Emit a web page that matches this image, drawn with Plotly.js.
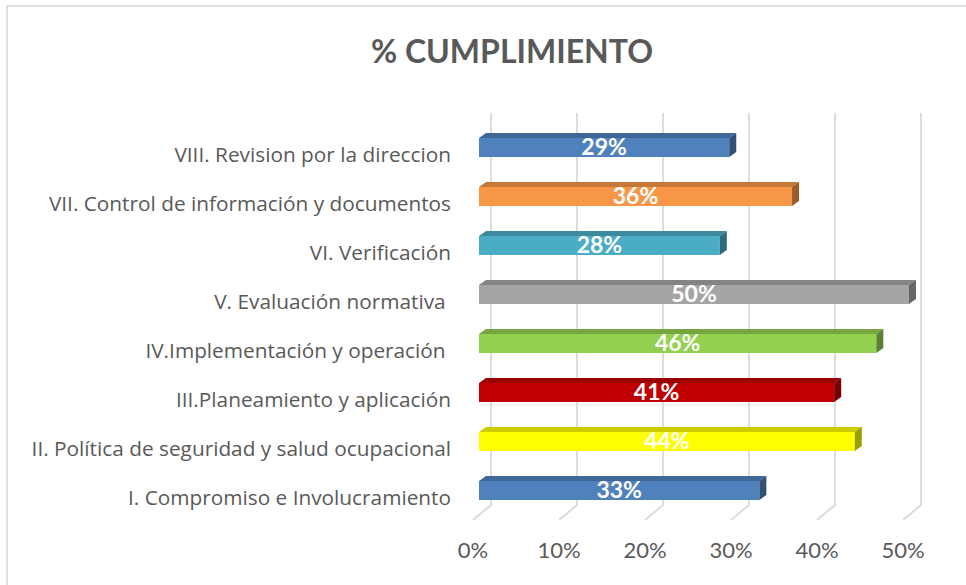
<!DOCTYPE html>
<html>
<head>
<meta charset="utf-8">
<script src="https://cdn.plot.ly/plotly-3.0.1.min.js"></script>
<style>html,body{margin:0;padding:0;background:#fff;}#chart{width:966px;height:585px;}</style>
</head>
<body>
<div id="chart"></div>
<script>
// ---- data (bottom to top) ----
const categories = [
  "I. Compromiso e Involucramiento",
  "II. Política de seguridad y salud ocupacional",
  "III.Planeamiento y aplicación",
  "IV.Implementación y operación ",
  "V. Evaluación normativa ",
  "VI. Verificación",
  "VII. Control de información y documentos",
  "VIII. Revision por la direccion"
];
const values = [32.6, 43.7, 41.3, 46.2, 50.0, 28.0, 36.4, 29.1];
const colors = ["#4f81bd", "#ffff00", "#c00000", "#92d050", "#a5a5a5", "#4bacc6", "#f79646", "#4f81bd"];
const tickValues = [0, 10, 20, 30, 40, 50];
const tickLabels = ["0%", "10%", "20%", "30%", "40%", "50%"];

// ---- geometry (pixel-based conversions) ----
const W = 966, H = 585;
const plotL = 470, plotR = 926, plotT = 108, plotB = 520;
const x0px = 479, pxPerUnit = 8.6;      // front face of bars: 0% at 479px
const yRef = 490.5, pxPerCat = 49;      // center of first category
const xr = [(plotL - x0px) / pxPerUnit, (plotR - x0px) / pxPerUnit];
const yr = [(yRef - plotB) / pxPerCat, (yRef - plotT) / pxPerCat];
const pxX = p => p / pxPerUnit;     // pixel length -> data x
const pxY = p => p / pxPerCat;      // pixel length -> data y

const barW = pxY(19);
const depthX = pxX(7), depthY = pxY(5);

function shade(hex, f) {
  const n = parseInt(hex.slice(1), 16);
  const r = Math.round(((n >> 16) & 255) * f), g = Math.round(((n >> 8) & 255) * f), b = Math.round((n & 255) * f);
  return `rgb(${r},${g},${b})`;
}

const idx = categories.map((c, i) => i);
const shapes = [];

// back-wall gridlines with floor diagonals
const backOff = pxX(12), floorOff = pxX(-6);
const gTop = (yRef - 113) / pxPerCat, gBend = (yRef - 505) / pxPerCat, gBot = (yRef - 520) / pxPerCat;
tickValues.forEach(t => {
  shapes.push({
    type: "path", xref: "x", yref: "y", layer: "below",
    path: `M ${t + backOff},${gTop} L ${t + backOff},${gBend} L ${t + floorOff},${gBot}`,
    line: { color: "#d9d9d9", width: 1.8 }
  });
});

// 3D top and side faces of bars
values.forEach((v, i) => {
  const yt = i + barW / 2, yb = i - barW / 2;
  shapes.push({
    type: "path", xref: "x", yref: "y", layer: "above",
    path: `M 0,${yt} L ${v},${yt} L ${v + depthX},${yt + depthY} L ${depthX},${yt + depthY} Z`,
    fillcolor: shade(colors[i], 0.8), line: { width: 0 }
  });
  shapes.push({
    type: "path", xref: "x", yref: "y", layer: "above",
    path: `M ${v},${yb} L ${v},${yt} L ${v + depthX},${yt + depthY} L ${v + depthX},${yb + depthY} Z`,
    fillcolor: shade(colors[i], 0.62), line: { width: 0 }
  });
});

// outer chart border (paper coordinates)
const pw = plotR - plotL, ph = plotB - plotT;
shapes.push({
  type: "rect", xref: "paper", yref: "paper", layer: "above",
  x0: (7 - plotL) / pw, x1: (975 - plotL) / pw,
  y0: (plotB - 6) / ph, y1: (plotB - 595) / ph,
  line: { color: "#d9d9d9", width: 1.5 }, fillcolor: "rgba(0,0,0,0)"
});

const bars = {
  type: "bar", orientation: "h",
  x: values, y: idx, width: barW,
  marker: { color: colors, line: { width: 0 } },
  hoverinfo: "skip", showlegend: false
};

const labels = {
  type: "scatter", mode: "text",
  x: values.map(v => v / 2), y: idx.map(i => i - pxY(1.5)),
  text: values.map(v => Math.round(v) + "%"),
  textposition: "middle center",
  textfont: { family: "Lato, sans-serif", size: 23, color: "#ffffff", weight: 700 },
  hoverinfo: "skip", showlegend: false, cliponaxis: false
};

const layout = {
  width: W, height: H,
  margin: { l: plotL, r: W - plotR, t: plotT, b: H - plotB, pad: 0 },
  paper_bgcolor: "#ffffff", plot_bgcolor: "rgba(0,0,0,0)",
  showlegend: false,
  title: {
    text: "<b>% CUMPLIMIENTO</b>",
    x: 512 / W, xanchor: "center", xref: "container",
    y: 1 - 52 / H, yanchor: "middle", yref: "container",
    font: { family: "Lato, sans-serif", size: 32, color: "#595959" }
  },
  xaxis: {
    range: xr, showgrid: false, zeroline: false, showline: false,
    tickmode: "array", tickvals: tickValues.map(t => t + floorOff), ticktext: tickLabels,
    ticks: "", ticklabelstandoff: 15,
    tickfont: { family: "Lato, sans-serif", size: 22, color: "#595959" },
    fixedrange: true
  },
  yaxis: {
    range: yr, showgrid: false, zeroline: false, showline: false,
    tickmode: "array", tickvals: idx, ticktext: categories,
    ticks: "", ticklabelstandoff: 18, ticklabelshift: 7,
    tickfont: { family: "Open Sans, sans-serif", size: 20.8, color: "#595959" },
    fixedrange: true
  },
  shapes: shapes
};

Plotly.newPlot("chart", [bars, labels], layout, { displayModeBar: false, staticPlot: true });
</script>
</body>
</html>
